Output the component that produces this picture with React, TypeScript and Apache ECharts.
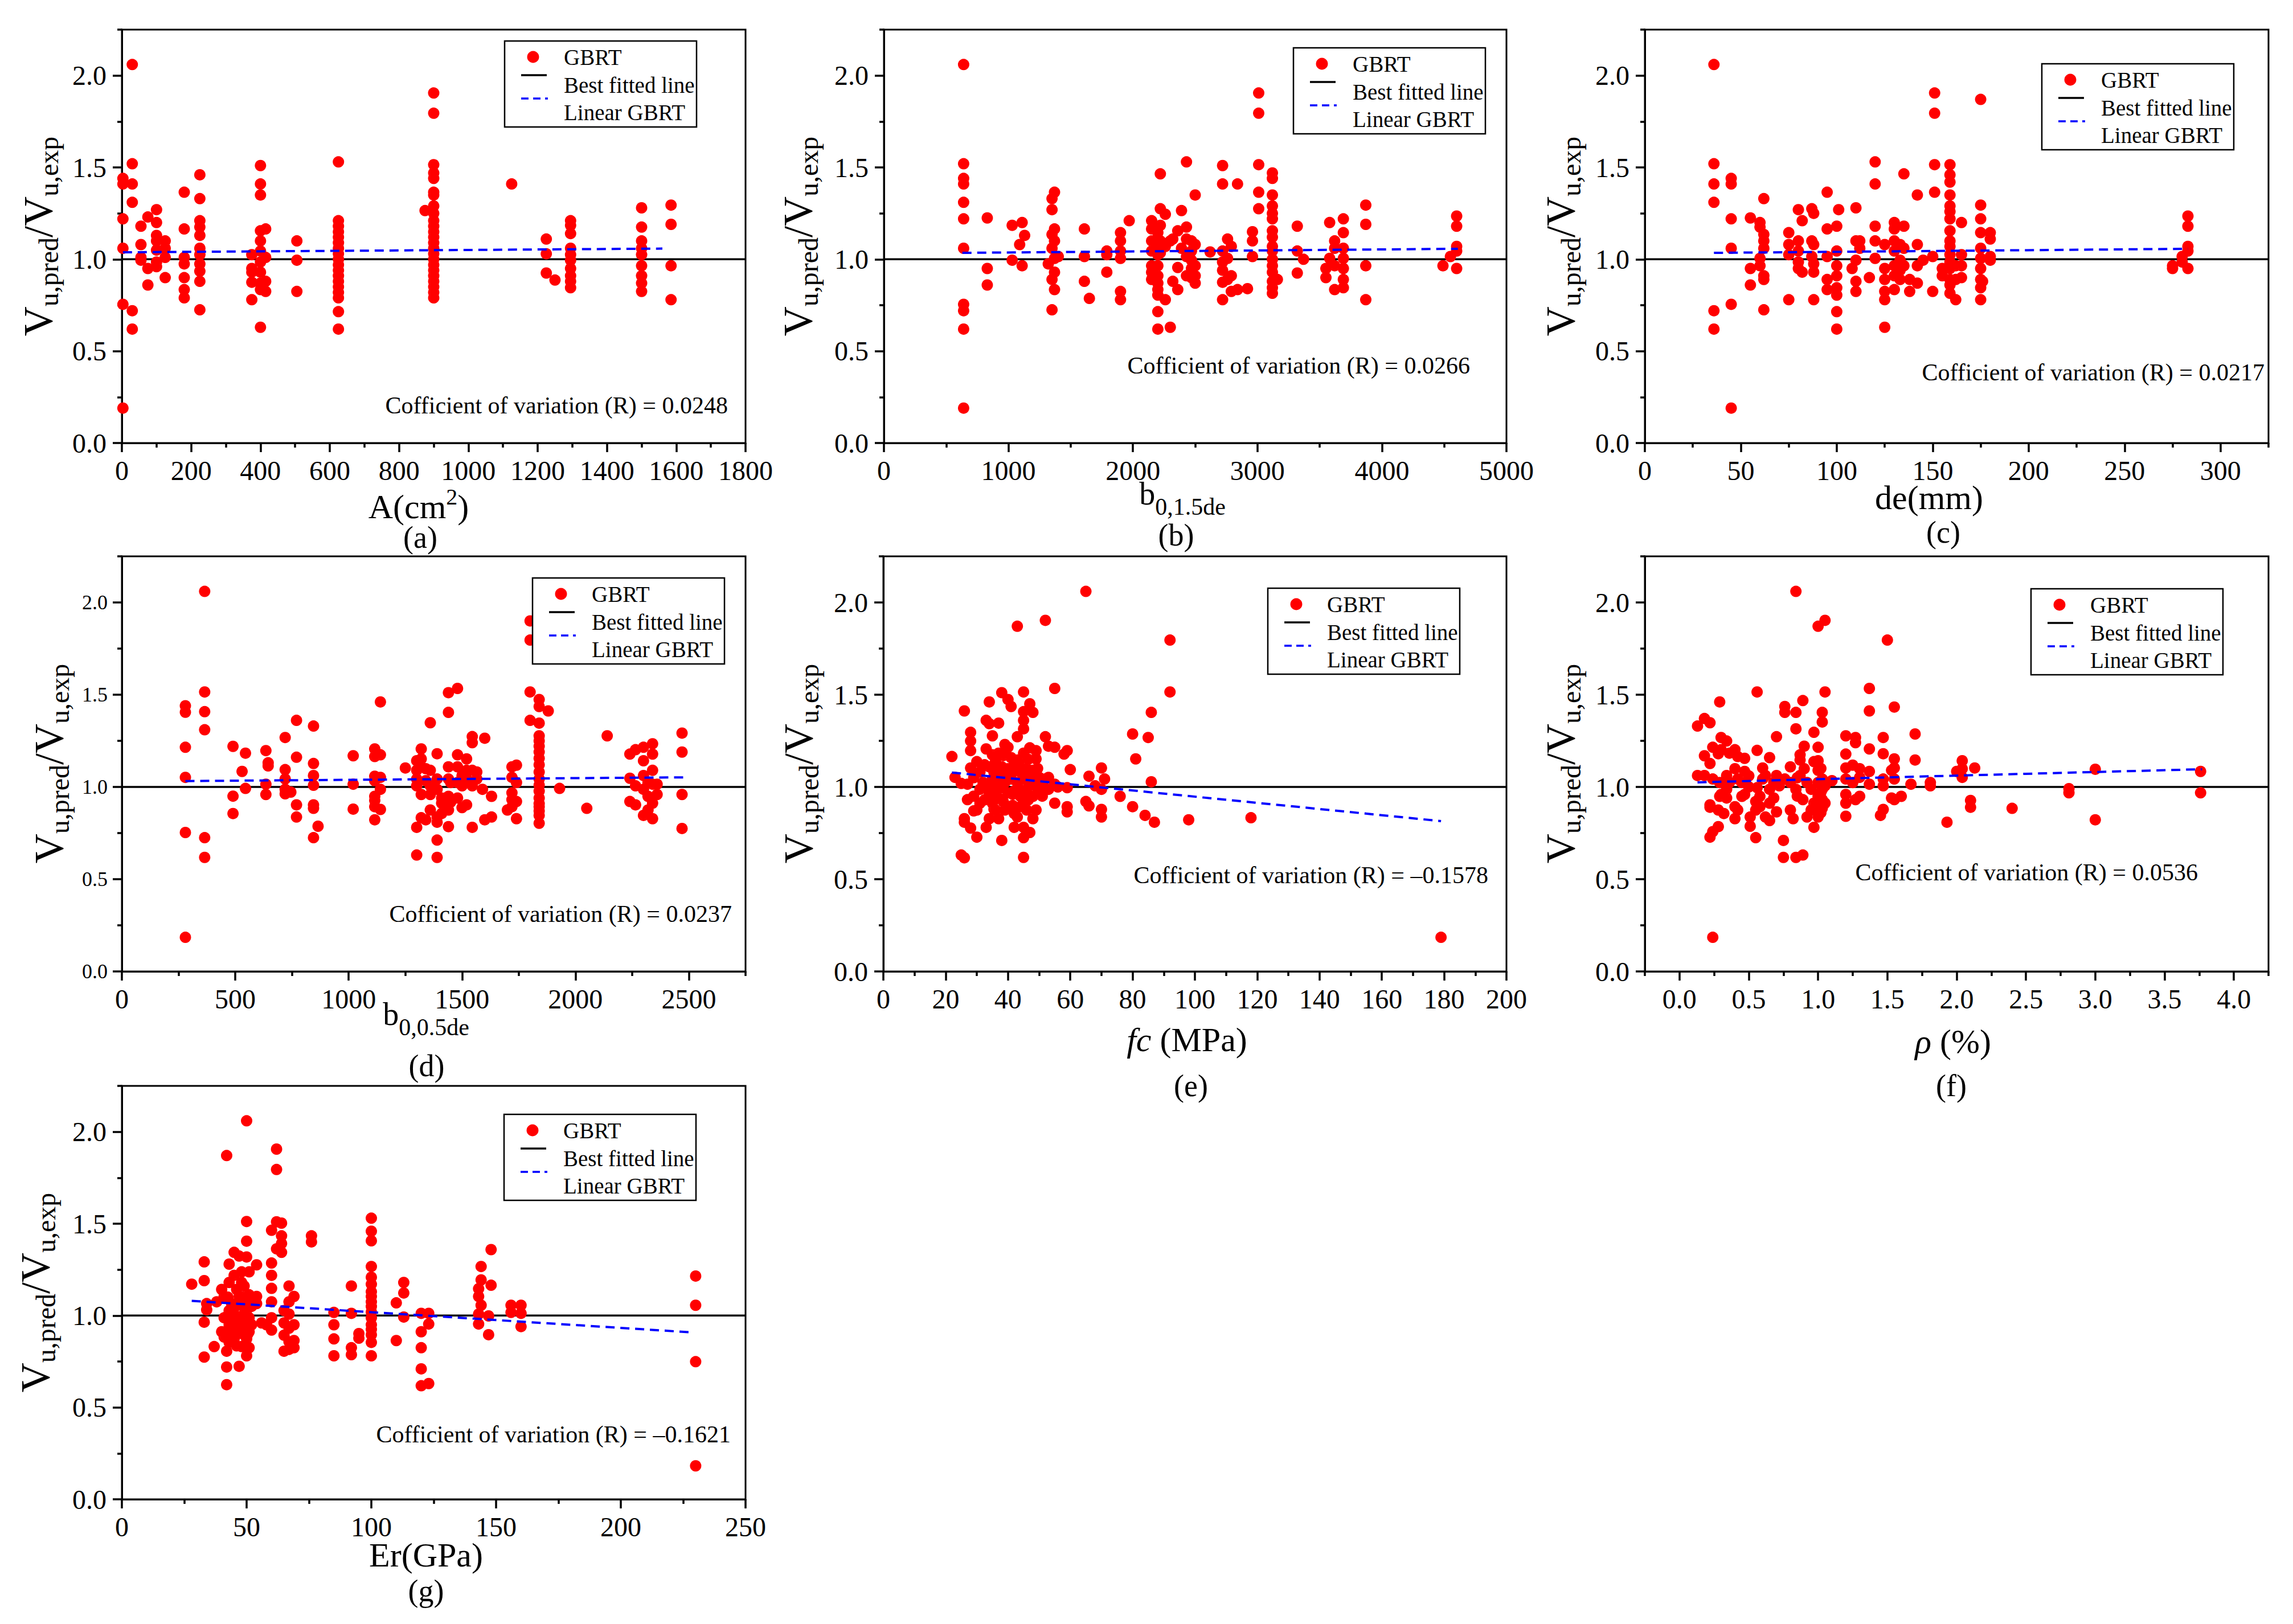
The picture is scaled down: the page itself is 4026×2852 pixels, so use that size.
import { useEffect, useRef } from 'react'
import * as echarts from 'echarts'

type Col = [number, number[]]
type Pt = [number, number]

const FONT = '"Liberation Serif", "Times New Roman", serif'
const W = 4026
const H = 2852
const RED = '#ff0000'
const BLUE = '#0000ff'

// shared y ticks
const yMajor = [0, 0.5, 1, 1.5, 2]
const yMinor = [0.25, 0.75, 1.25, 1.75, 2.25]

// (a) A (cm2): [x, [ratios...]]
const colsA: Col[] = [
  [3, [1.44, 1.41, 1.22, 1.06, 0.755, 0.19]],
  [30, [2.06, 1.52, 1.41, 1.31, 0.72, 0.62]],
  [55, [1.18, 1.08, 1.01, 0.995]],
  [75, [1.23, 0.95, 0.86]],
  [100, [1.27, 1.2, 1.13, 1.1, 1.05, 0.985, 0.96]],
  [125, [1.1, 1.06, 1.01, 0.9]],
  [180, [1.365, 1.165, 1.01, 0.975, 0.9, 0.835, 0.79]],
  [225, [1.46, 1.33, 1.21, 1.175, 1.13, 1.06, 1.025, 0.975, 0.935, 0.88, 0.725]],
  [375, [1.025, 0.95, 0.93, 0.875, 0.78]],
  [400, [1.51, 1.41, 1.35, 1.155, 1.1, 1.045, 0.985, 0.93, 0.87, 0.835, 0.63]],
  [415, [1.165, 1.01, 0.88, 0.825]],
  [505, [1.1, 0.995, 0.825]],
  [625, [1.53, 1.21, 1.18, 1.15, 1.12, 1.09, 1.06, 1.03, 1.0, 0.97, 0.94, 0.91, 0.88, 0.85, 0.82, 0.79, 0.715, 0.62]],
  [875, [1.265]],
  [900, [1.905, 1.795, 1.515, 1.47, 1.44, 1.365, 1.35, 1.29, 1.25, 1.21, 1.18, 1.15, 1.12, 1.09, 1.06, 1.03, 1.0, 0.97, 0.94, 0.91, 0.88, 0.85, 0.82, 0.79]],
  [1125, [1.41]],
  [1225, [1.11, 1.03, 0.925]],
  [1250, [0.887]],
  [1295, [1.21, 1.185, 1.14, 1.06, 1.025, 0.995, 0.95, 0.91, 0.88, 0.845]],
  [1500, [1.28, 1.175, 1.1, 1.06, 1.025, 0.965, 0.91, 0.87, 0.825]],
  [1585, [1.295, 1.19, 0.965, 0.78]],
]
const fitA: Pt[] = [[3, 1.038], [1560, 1.058]]
const xTicksA = [0, 200, 400, 600, 800, 1000, 1200, 1400, 1600, 1800]
const xMinorA = [100, 300, 500, 700, 900, 1100, 1300, 1500, 1700]

// (b) b0,1.5de
const colsB: Col[] = [
  [640, [2.06, 1.52, 1.44, 1.41, 1.31, 1.22, 1.06, 0.755, 0.72, 0.62, 0.19]],
  [830, [1.225, 0.95, 0.86]],
  [1030, [1.185, 0.995]],
  [1090, [1.08]],
  [1110, [1.2, 0.965]],
  [1130, [1.13]],
  [1320, [0.975]],
  [1350, [1.33, 1.27, 1.135, 1.06, 0.89, 0.725]],
  [1370, [1.365, 1.165, 1.1, 1.005, 0.93, 0.835]],
  [1400, [1.015]],
  [1610, [1.165, 1.015, 0.88]],
  [1650, [0.787]],
  [1790, [1.045, 1.025, 0.93]],
  [1900, [1.145, 1.1, 1.045, 1.005, 0.825, 0.78]],
  [1970, [1.21]],
  [2150, [1.21, 1.165, 1.1, 1.045, 0.965, 0.93, 0.89]],
  [2200, [1.145, 1.08, 1.025, 0.965, 0.91, 0.87, 0.835, 0.805, 0.715, 0.62]],
  [2220, [1.465, 1.275, 1.185, 1.1, 1.035]],
  [2260, [1.245, 1.07, 0.78]],
  [2300, [1.1, 0.63]],
  [2320, [1.11, 0.88]],
  [2360, [1.155, 0.955, 0.835]],
  [2390, [1.265, 1.06]],
  [2430, [1.53, 1.175, 1.11, 1.015, 0.91]],
  [2470, [1.1, 1.045, 0.995, 0.95, 0.9]],
  [2500, [1.35, 1.08, 0.965, 0.91, 0.87]],
  [2620, [1.04]],
  [2720, [1.51, 1.41, 1.045, 0.985, 0.94, 0.875, 0.78]],
  [2760, [1.11, 1.005, 0.89]],
  [2790, [1.07, 0.91, 0.825]],
  [2840, [1.41, 0.835]],
  [2920, [0.84]],
  [2960, [1.15, 1.1, 1.015]],
  [3010, [1.905, 1.795, 1.515, 1.365, 1.275]],
  [3120, [1.47, 1.44, 1.35, 1.29, 1.25, 1.22, 1.155, 1.12, 1.07, 1.045, 1.0, 0.965, 0.93, 0.88, 0.845, 0.815]],
  [3160, [0.89]],
  [3320, [1.18, 1.045, 0.925]],
  [3370, [1.0]],
  [3550, [0.95, 0.9]],
  [3580, [1.2, 1.005]],
  [3620, [1.1, 1.06, 0.965, 0.835]],
  [3690, [1.22, 1.145, 1.06, 1.005, 0.95, 0.89, 0.845]],
  [3870, [1.295, 1.19, 0.965, 0.78]],
  [4490, [0.965]],
  [4550, [1.015]],
  [4600, [1.235, 1.18, 1.07, 1.045, 0.95]],
]
const fitB: Pt[] = [[630, 1.035], [4610, 1.057]]
const xTicksB = [0, 1000, 2000, 3000, 4000, 5000]
const xMinorB = [500, 1500, 2500, 3500, 4500]

// (c) de (mm)
const colsC: Col[] = [
  [36, [2.06, 1.52, 1.41, 1.31, 0.72, 0.62]],
  [45, [1.44, 1.41, 1.22, 1.06, 0.755, 0.19]],
  [55, [1.225, 0.95, 0.86]],
  [60, [1.2, 1.175, 1.005, 0.965]],
  [62, [1.33, 1.135, 1.1, 1.06, 0.91, 0.89, 0.725]],
  [75, [1.145, 1.08, 1.025, 0.78]],
  [80, [1.27, 1.1, 1.045, 0.985, 0.95]],
  [82, [1.21, 0.93]],
  [87, [1.275, 1.1, 1.015]],
  [88, [1.25, 1.08, 0.975, 0.93, 0.78]],
  [95, [1.365, 1.165, 1.015, 0.89, 0.835]],
  [100, [1.18, 1.045, 0.965, 0.91, 0.845, 0.805, 0.715, 0.62]],
  [101, [1.27]],
  [108, [0.95]],
  [110, [1.28, 1.1, 0.995, 0.88, 0.825]],
  [112, [1.1, 1.06]],
  [117, [0.9]],
  [120, [1.53, 1.41, 1.18, 1.1, 1.005]],
  [125, [1.08, 0.95, 0.89, 0.825, 0.78, 0.63]],
  [130, [1.2, 1.165, 1.1, 1.045, 0.965, 0.91, 0.835]],
  [133, [1.08, 0.995, 0.94, 0.89]],
  [135, [1.465, 1.18, 1.06, 0.965]],
  [138, [0.89, 0.825]],
  [142, [1.35, 1.08, 0.965, 0.87]],
  [145, [0.995]],
  [150, [1.015, 0.825]],
  [151, [1.905, 1.795, 1.515, 1.365]],
  [155, [0.95, 0.91]],
  [159, [1.515, 1.46, 1.42, 1.35, 1.29, 1.26, 1.22, 1.155, 1.1, 1.07, 1.025, 0.985, 0.95, 0.89, 0.86, 0.815]],
  [162, [0.965, 0.89, 0.78]],
  [165, [1.2, 1.025, 0.965, 0.9]],
  [175, [1.87, 1.295, 1.22, 1.145, 1.06, 1.005, 0.95, 0.89, 0.845, 0.78]],
  [176, [0.88]],
  [180, [1.145, 1.11, 1.015, 0.995]],
  [275, [0.965, 0.95]],
  [280, [1.015, 0.985]],
  [283, [1.235, 1.18, 1.07, 1.045, 0.95]],
]
const fitC: Pt[] = [[36, 1.035], [283, 1.057]]
const xTicksC = [0, 50, 100, 150, 200, 250, 300]
const xMinorC = [25, 75, 125, 175, 225, 275, 325]

// (d) b0,0.5de
const colsD: Col[] = [
  [280, [1.44, 1.405, 1.215, 1.052, 0.753, 0.185]],
  [365, [2.06, 1.515, 1.408, 1.31, 0.725, 0.618]],
  [490, [1.22, 0.95, 0.856]],
  [530, [1.084]],
  [545, [1.183, 0.992]],
  [635, [1.197, 1.015, 0.959]],
  [645, [1.131, 1.114]],
  [720, [1.268, 1.094, 1.043, 0.987, 0.963]],
  [745, [0.972]],
  [770, [1.361, 1.161, 0.903, 0.837]],
  [845, [1.33, 1.127, 1.062, 1.009, 0.903, 0.884, 0.725]],
  [865, [0.787]],
  [1020, [1.169, 1.015, 0.88]],
  [1115, [1.206, 1.165, 1.058, 1.034, 0.949, 0.927, 0.893, 0.822]],
  [1140, [1.461, 1.174, 1.052, 0.987, 0.878]],
  [1250, [1.103]],
  [1300, [1.142, 1.09, 1.043, 1.006, 0.781, 0.631]],
  [1320, [1.206, 1.152, 1.109, 0.959, 0.833]],
  [1340, [1.099, 1.034, 0.822]],
  [1360, [1.348, 1.09, 1.006, 0.959, 0.875]],
  [1390, [1.18, 1.043, 0.987, 0.837, 0.809, 0.712, 0.618]],
  [1410, [0.94, 0.912, 0.856]],
  [1440, [1.511, 1.404, 1.109, 1.043, 0.949, 0.875, 0.785]],
  [1450, [1.024, 0.918]],
  [1480, [1.534, 1.174, 1.109, 1.024, 0.94]],
  [1500, [1.062, 1.006, 0.888]],
  [1520, [1.152, 1.09, 1.043, 0.903]],
  [1545, [1.273, 1.24, 1.09, 1.006, 0.781]],
  [1565, [1.081, 1.043]],
  [1590, [0.987]],
  [1600, [1.264, 0.822]],
  [1630, [0.949, 0.837]],
  [1700, [0.875]],
  [1720, [1.109, 1.052, 0.968, 0.931, 0.893]],
  [1740, [1.118, 1.024, 0.921, 0.828]],
  [1800, [1.9, 1.796, 1.515, 1.361]],
  [1840, [1.474, 1.436, 1.346, 1.277, 1.25, 1.221, 1.19, 1.155, 1.12, 1.081, 1.043, 1.01, 0.978, 0.94, 0.91, 0.893, 0.87, 0.846, 0.803]],
  [1880, [1.412]],
  [1930, [0.992]],
  [2050, [0.884]],
  [2140, [1.277]],
  [2240, [1.178, 1.047, 0.921]],
  [2265, [1.202, 1.006, 0.903]],
  [2300, [1.215, 1.142, 1.062, 0.987, 0.846]],
  [2320, [1.024, 0.949, 0.875]],
  [2340, [1.234, 1.178, 1.09, 1.015, 0.912, 0.828]],
  [2360, [1.015, 0.959]],
  [2470, [1.292, 1.189, 0.959, 0.775]],
]
const fitD: Pt[] = [[280, 1.032], [2475, 1.052]]
const xTicksD = [0, 500, 1000, 1500, 2000, 2500]
const xMinorD = [250, 750, 1250, 1750, 2250, 2750]

// (e) fc (MPa)
const colsE: Col[] = [
  [22, [1.165]],
  [23, [1.052]],
  [25, [1.019, 0.631]],
  [26, [1.412, 0.828, 0.809, 0.616]],
  [27, [1.015, 0.931]],
  [28, [1.296, 1.249, 1.197, 1.103, 0.777]],
  [29, [1.05, 0.95, 0.87]],
  [30, [1.137, 0.875, 0.728]],
  [31, [1.081, 0.987, 0.912]],
  [32, [1.024]],
  [32.5, [1.12, 0.93]],
  [33, [1.361, 1.206, 1.006, 0.781]],
  [34, [1.461, 1.343, 1.109, 0.959, 0.828]],
  [35, [1.277, 1.174, 1.043, 0.912]],
  [35.5, [1.08, 0.98, 0.88]],
  [36, [1.137, 1.015, 0.949, 0.875]],
  [37, [1.346, 1.183, 1.062, 0.94, 0.828]],
  [38, [1.511, 1.109, 0.996, 0.71]],
  [38.5, [1.17, 1.05, 0.92]],
  [39, [1.23, 1.024, 0.875]],
  [40, [1.474, 1.215, 1.099, 0.968, 0.893]],
  [41, [1.436, 1.159, 1.043]],
  [41.5, [1.08, 0.96, 0.9]],
  [42, [1.118, 0.978, 0.856, 0.781]],
  [43, [1.871, 1.272, 1.146, 1.024, 0.837]],
  [43.5, [1.12, 0.99]],
  [44, [1.081, 0.949, 0.893]],
  [45, [1.515, 1.408, 1.361, 1.315, 1.183, 1.043, 0.912, 0.781, 0.725, 0.618]],
  [46, [1.099, 0.987, 0.875]],
  [46.5, [1.15, 1.06, 0.93]],
  [47, [1.451, 1.212, 1.024, 0.753]],
  [48, [1.404, 1.09, 0.949, 0.828]],
  [49, [1.197, 1.152, 1.043, 0.875]],
  [49.5, [1.1, 0.99]],
  [50, [1.052, 0.968]],
  [51, [1.02, 0.95]],
  [52, [1.903, 1.272, 1.043]],
  [53, [1.221, 1.052, 0.987]],
  [55, [1.534, 1.215, 1.015, 0.912]],
  [56, [1.0]],
  [58, [1.178]],
  [59, [1.197, 0.996, 0.893, 0.865]],
  [60, [1.094]],
  [65, [2.06, 0.921]],
  [66, [1.058, 0.897]],
  [68, [1.006]],
  [70, [1.103, 0.987, 0.878, 0.837]],
  [71, [1.043]],
  [76, [0.949]],
  [80, [1.287, 0.893]],
  [81, [1.152]],
  [84, [0.846]],
  [85, [1.268]],
  [86, [1.404, 1.028]],
  [87, [0.809]],
  [92, [1.796, 1.515]],
  [98, [0.822]],
  [118, [0.833]],
  [179, [0.185]],
]
const fitE: Pt[] = [[22, 1.078], [179, 0.815]]
const xTicksE = [0, 20, 40, 60, 80, 100, 120, 140, 160, 180, 200]
const xMinorE = [10, 30, 50, 70, 90, 110, 130, 150, 170, 190]

// (f) rho (%)
const colsF: Col[] = [
  [0.13, [1.33, 1.062]],
  [0.18, [1.371, 1.169, 1.062]],
  [0.22, [1.348, 1.127, 0.903, 0.89, 0.728]],
  [0.24, [1.215, 1.043, 0.758, 0.185]],
  [0.28, [1.18, 0.875, 0.785]],
  [0.29, [1.461, 1.024, 0.949]],
  [0.3, [1.268, 1.202, 0.959]],
  [0.32, [0.856]],
  [0.34, [1.249, 1.062, 0.987, 0.94]],
  [0.36, [1.183, 1.024]],
  [0.4, [1.202, 1.099, 0.893, 0.828]],
  [0.42, [1.165, 1.043, 0.875]],
  [0.45, [1.024, 0.949]],
  [0.47, [1.155, 1.084, 0.959]],
  [0.5, [1.0, 1.06]],
  [0.51, [0.837, 0.787]],
  [0.55, [0.921, 0.875, 0.725]],
  [0.56, [1.515, 1.198, 0.996]],
  [0.58, [0.949, 0.893]],
  [0.6, [1.103, 1.043]],
  [0.62, [1.062, 0.837]],
  [0.65, [1.159, 0.987, 0.912, 0.818]],
  [0.68, [1.024, 0.94]],
  [0.7, [1.272, 1.062, 0.865]],
  [0.72, [1.006]],
  [0.75, [0.71, 0.618]],
  [0.76, [1.436, 1.404, 1.043]],
  [0.8, [1.109, 1.024, 0.875]],
  [0.82, [0.828]],
  [0.84, [2.06, 1.404, 1.315, 0.987, 0.618]],
  [0.85, [1.05, 0.95]],
  [0.87, [1.174, 1.146, 1.062]],
  [0.89, [1.468, 0.931, 0.631]],
  [0.9, [1.221, 1.099]],
  [0.92, [1.024, 0.837]],
  [0.95, [0.987, 0.875]],
  [0.97, [1.296, 1.137, 0.912, 0.781]],
  [1.0, [1.871, 1.215, 1.142, 1.09, 1.024, 0.949, 0.893, 0.837]],
  [1.02, [1.1, 0.97, 0.92, 0.86]],
  [1.03, [1.404, 1.352, 1.043, 0.987, 0.931, 0.884]],
  [1.05, [1.903, 1.515, 1.006, 0.912]],
  [1.1, [1.034]],
  [1.2, [1.277, 1.178, 1.103, 1.043, 0.959, 0.912, 0.841]],
  [1.25, [1.118, 1.024]],
  [1.27, [1.268, 1.24, 0.931]],
  [1.3, [1.099, 1.052, 0.949]],
  [1.37, [1.534, 1.412, 1.206, 1.084, 1.015]],
  [1.45, [0.846]],
  [1.47, [1.268, 1.18, 1.043, 1.006, 0.878]],
  [1.5, [1.796]],
  [1.53, [1.09, 0.94]],
  [1.55, [1.433, 1.152, 1.103, 1.043, 0.931]],
  [1.6, [0.949]],
  [1.67, [1.015]],
  [1.7, [1.287, 1.146]],
  [1.81, [1.024, 1.006]],
  [1.93, [0.809]],
  [2.0, [1.084]],
  [2.04, [1.142, 1.099, 1.052]],
  [2.1, [0.927, 0.89]],
  [2.13, [1.103]],
  [2.4, [0.884]],
  [2.81, [0.991, 0.968]],
  [3.0, [1.096, 0.822]],
  [3.76, [1.084, 0.968]],
]
const fitF: Pt[] = [[0.13, 1.025], [3.77, 1.096]]
const xTicksF = [0, 0.5, 1, 1.5, 2, 2.5, 3, 3.5, 4]
const xMinorF = [-0.25, 0.25, 0.75, 1.25, 1.75, 2.25, 2.75, 3.25, 3.75, 4.25]

// (g) Er (GPa)
const colsG: Col[] = [
  [28, [1.171]],
  [33, [1.292, 1.19, 0.964, 0.774]],
  [34, [1.065, 1.031]],
  [37, [0.831]],
  [38, [1.075]],
  [40, [1.142, 0.912]],
  [41, [1.104, 0.988, 0.883]],
  [42, [1.871, 0.806, 0.72, 0.624]],
  [42.5, [1.1, 1.0, 0.92]],
  [43, [1.28, 1.18, 1.027, 0.95, 0.854]],
  [44, [1.065, 0.979, 0.912]],
  [45, [1.344, 1.219, 1.008, 0.873]],
  [45.5, [1.05, 0.97, 0.9]],
  [46, [1.142, 0.94, 0.835]],
  [47, [1.324, 1.104, 0.988, 0.724]],
  [48, [1.238, 1.18, 1.056, 0.902, 0.831]],
  [48.5, [1.1, 0.99, 0.93]],
  [49, [1.161, 1.008, 0.95]],
  [50, [2.06, 1.512, 1.405, 1.319, 1.084, 0.873, 0.781]],
  [50.5, [1.04, 0.96, 0.9]],
  [51, [1.238, 1.113, 0.988, 0.912, 0.825]],
  [52, [1.05, 0.95]],
  [54, [1.276, 1.104, 1.065]],
  [56, [0.96]],
  [58, [0.95]],
  [60, [1.464, 1.286, 1.219, 1.148, 1.075, 0.988, 0.921]],
  [62, [1.906, 1.795, 1.51, 1.363]],
  [64, [1.503, 1.434, 1.392, 1.344]],
  [65, [1.027, 0.96, 0.893, 0.806]],
  [67, [1.161, 1.075, 1.008, 0.931, 0.858, 0.816]],
  [69, [1.104, 0.95, 0.864, 0.825]],
  [76, [1.434, 1.401]],
  [85, [1.017, 0.95, 0.873, 0.781]],
  [92, [1.161, 1.012, 0.825, 0.787]],
  [95, [0.902, 0.877]],
  [100, [1.53, 1.459, 1.407, 1.267, 1.209, 1.171, 1.13, 1.104, 1.075, 1.05, 1.02, 0.988, 0.95, 0.925, 0.896, 0.854, 0.781]],
  [110, [1.069, 0.864]],
  [113, [1.18, 1.123, 0.992]],
  [120, [1.012, 0.912, 0.825, 0.71, 0.618]],
  [123, [1.012, 0.954, 0.63]],
  [143, [1.146, 1.104, 1.008, 0.954]],
  [144, [1.267, 1.194, 1.056]],
  [147, [0.998, 0.896]],
  [148, [1.359, 1.165]],
  [156, [1.056, 1.017]],
  [160, [1.056, 1.012, 0.94]],
  [230, [1.215, 1.056, 0.749, 0.182]],
]
const fitG: Pt[] = [[28, 1.08], [229, 0.908]]
const xTicksG = [0, 50, 100, 150, 200, 250]
const xMinorG = [25, 75, 125, 175, 225]

const coefValues = ['0.0248', '0.0266', '0.0217', '0.0237', '–0.1578', '0.0536', '–0.1621']

// layout of the seven panels
const panels = [
  { cols: colsA, fit: fitA, xMin: 0, xMax: 1800, xTicks: xTicksA, xMinor: xMinorA, digits: 0, yFont: 48, yMargin: 27,
    box: [214, 52, 1095, 726], legend: [886, 72], coef: [1278, 712], yTitle: [70, 415],
    xTitle: { text: '{ma|A(cm}{sup|2}{ma|)}', x: 735, y: 886 }, tag: { text: '(a)', x: 738, y: 944 } },
  { cols: colsB, fit: fitB, xMin: 0, xMax: 5000, xTicks: xTicksB, xMinor: xMinorB, digits: 0, yFont: 48, yMargin: 27,
    box: [1552, 52, 1093, 726], legend: [2271, 84], coef: [2581, 642], yTitle: [1404, 415],
    xTitle: { text: '{mb|b}{sb|0,1.5de}', x: 2076, y: 875 }, tag: { text: '(b)', x: 2065, y: 940 } },
  { cols: colsC, fit: fitC, xMin: 0, xMax: 325, xTicks: xTicksC, xMinor: xMinorC, digits: 0, yFont: 48, yMargin: 27,
    box: [2888, 52, 1095, 726], legend: [3585, 112], coef: [3976, 654], yTitle: [2743, 415],
    xTitle: { text: '{m|de(mm)}', x: 3387, y: 874 }, tag: { text: '(c)', x: 3412, y: 935 } },
  { cols: colsD, fit: fitD, xMin: 0, xMax: 2750, xTicks: xTicksD, xMinor: xMinorD, digits: 0, yFont: 36, yMargin: 25,
    box: [214, 977, 1095, 729], legend: [935, 1015], coef: [1285, 1605], yTitle: [89, 1341],
    xTitle: { text: '{mb|b}{sb|0,0.5de}', x: 748, y: 1789 }, tag: { text: '(d)', x: 749, y: 1872 } },
  { cols: colsE, fit: fitE, xMin: 0, xMax: 200, xTicks: xTicksE, xMinor: xMinorE, digits: 0, yFont: 48, yMargin: 27,
    box: [1551, 977, 1094, 729], legend: [2226, 1033], coef: [2613, 1537], yTitle: [1405, 1341],
    xTitle: { text: '{it|fc}{m| (MPa)}', x: 2084, y: 1826 }, tag: { text: '(e)', x: 2091, y: 1907 } },
  { cols: colsF, fit: fitF, xMin: -0.25, xMax: 4.25, xTicks: xTicksF, xMinor: xMinorF, digits: 1, yFont: 48, yMargin: 27,
    box: [2888, 977, 1095, 729], legend: [3566, 1034], coef: [3859, 1532], yTitle: [2743, 1341],
    xTitle: { text: '{it|ρ}{m| (%)}', x: 3429, y: 1829 }, tag: { text: '(f)', x: 3426, y: 1907 } },
  { cols: colsG, fit: fitG, xMin: 0, xMax: 250, xTicks: xTicksG, xMinor: xMinorG, digits: 0, yFont: 48, yMargin: 27,
    box: [214, 1907, 1095, 726], legend: [885, 1957], coef: [1283, 2519], yTitle: [65, 2270],
    xTitle: { text: '{m|Er(GPa)}', x: 748, y: 2731 }, tag: { text: '(g)', x: 748, y: 2794 } },
]

const tok = (fontSize: number, extra: Record<string, any> = {}) => ({ fontSize, fontFamily: FONT, fill: '#000', ...extra })

const rich = {
  m: tok(60),
  it: tok(60, { fontStyle: 'italic' }),
  ma: tok(60, { verticalAlign: 'bottom', padding: [7, 0, 0, 0] }),
  sup: tok(40, { verticalAlign: 'top' }),
  mb: tok(56, { verticalAlign: 'bottom', padding: [0, 0, 16, 0] }),
  sb: tok(42, { verticalAlign: 'bottom' }),
  v: tok(72, { verticalAlign: 'bottom', padding: [0, 0, 6, 0] }),
  vs: tok(48, { verticalAlign: 'bottom' }),
}

const axisLineStyle = { color: '#000', width: 3 }
const tickStyle = { color: '#000', width: 3.5 }

function legendGroup(bx: number, by: number) {
  const txt = (text: string, y: number) => ({
    type: 'text', x: 104, y, z: 101,
    style: { text, fontSize: 39, fontFamily: FONT, fill: '#000', verticalAlign: 'middle' },
  })
  return {
    type: 'group', x: bx, y: by, z: 100,
    children: [
      { type: 'rect', z: 100, shape: { x: 0, y: 0, width: 337, height: 151 }, style: { fill: '#fff', stroke: '#000', lineWidth: 2.5 } },
      { type: 'circle', z: 101, shape: { cx: 50, cy: 28, r: 10.5 }, style: { fill: RED } },
      { type: 'line', z: 101, shape: { x1: 29, y1: 60, x2: 74, y2: 60 }, style: { stroke: '#000', lineWidth: 3.5 } },
      { type: 'line', z: 101, shape: { x1: 29, y1: 101, x2: 76, y2: 101 }, style: { stroke: BLUE, lineWidth: 3.5, lineDash: [13, 8] } },
      txt('GBRT', 28),
      txt('Best fitted line', 77),
      txt('Linear GBRT', 125),
    ],
  }
}

function buildOption() {
  const grid: any[] = []
  const xAxis: any[] = []
  const yAxis: any[] = []
  const series: any[] = []
  const elements: any[] = []

  panels.forEach((p, i) => {
    const [left, top, width, height] = p.box
    grid.push({ left, top, width, height, show: true, borderColor: '#000', borderWidth: 3, backgroundColor: 'transparent', containLabel: false })

    xAxis.push({
      gridIndex: i, type: 'value', min: p.xMin, max: p.xMax, position: 'bottom',
      axisLine: { show: true, onZero: false, lineStyle: axisLineStyle },
      axisTick: { show: true, length: 16, customValues: p.xTicks, lineStyle: tickStyle },
      axisLabel: {
        customValues: p.xTicks, margin: 24, fontSize: 48, fontFamily: FONT, color: '#000',
        formatter: (v: number) => v.toFixed(p.digits),
      },
      splitLine: { show: false },
    })
    xAxis.push({
      gridIndex: i, type: 'value', min: p.xMin, max: p.xMax, position: 'bottom',
      axisLine: { show: false, onZero: false },
      axisTick: { show: true, length: 8, customValues: p.xMinor, lineStyle: tickStyle },
      axisLabel: { show: false },
      splitLine: { show: false },
    })
    yAxis.push({
      gridIndex: i, type: 'value', min: 0, max: 2.25, position: 'left',
      axisLine: { show: true, onZero: false, lineStyle: axisLineStyle },
      axisTick: { show: true, length: 16, customValues: yMajor, lineStyle: tickStyle },
      axisLabel: {
        customValues: yMajor, margin: p.yMargin, fontSize: p.yFont, fontFamily: FONT, color: '#000',
        formatter: (v: number) => v.toFixed(1),
      },
      splitLine: { show: false },
    })
    yAxis.push({
      gridIndex: i, type: 'value', min: 0, max: 2.25, position: 'left',
      axisLine: { show: false, onZero: false },
      axisTick: { show: true, length: 8, customValues: yMinor, lineStyle: tickStyle },
      axisLabel: { show: false },
      splitLine: { show: false },
    })

    const xi = 2 * i
    series.push({
      type: 'line', xAxisIndex: xi, yAxisIndex: xi, silent: true, z: 2,
      data: [[p.xMin, 1], [p.xMax, 1]], symbol: 'none',
      lineStyle: { color: '#000', width: 3.5 },
    })
    series.push({
      type: 'scatter', xAxisIndex: xi, yAxisIndex: xi, z: 3,
      data: p.cols.flatMap(([x, ys]) => ys.map((y) => [x, y])),
      symbol: 'circle', symbolSize: 20,
      itemStyle: { color: RED, opacity: 1 },
    })
    series.push({
      type: 'line', xAxisIndex: xi, yAxisIndex: xi, silent: true, z: 4,
      data: p.fit, symbol: 'none',
      lineStyle: { color: BLUE, width: 4, type: [16, 10] },
    })

    elements.push(legendGroup(p.legend[0], p.legend[1]))
    elements.push({
      type: 'text', x: p.coef[0], y: p.coef[1], z: 50,
      style: {
        text: `Cofficient of variation (R) = ${coefValues[i]}`,
        fontSize: 42, fontFamily: FONT, fill: '#000', align: 'right', verticalAlign: 'middle',
      },
    })
    elements.push({
      type: 'text', x: p.yTitle[0], y: p.yTitle[1], rotation: Math.PI / 2, z: 50,
      style: { text: '{v|V}{vs|u,pred}{v|/V}{vs|u,exp}', rich, align: 'center', verticalAlign: 'middle' },
    })
    elements.push({
      type: 'text', x: p.xTitle.x, y: p.xTitle.y, z: 50,
      style: { text: p.xTitle.text, rich, align: 'center', verticalAlign: 'middle' },
    })
    elements.push({
      type: 'text', x: p.tag.x, y: p.tag.y, z: 50,
      style: { text: p.tag.text, fontSize: 54, fontFamily: FONT, fill: '#000', align: 'center', verticalAlign: 'middle' },
    })
  })

  return {
    animation: false,
    backgroundColor: '#fff',
    textStyle: { fontFamily: FONT },
    grid, xAxis, yAxis, series,
    graphic: { elements },
  }
}

export default function App() {
  const chartRef = useRef<HTMLDivElement>(null)

  useEffect(() => {
    if (!chartRef.current) return
    document.body.style.margin = '0'
    const chart = echarts.init(chartRef.current, null, { renderer: 'svg' })
    chart.setOption(buildOption())
    return () => {
      chart.dispose()
    }
  }, [])

  return (
    <div
      ref={chartRef}
      style={{ position: 'absolute', left: 0, top: 0, width: W, height: H, background: '#fff' }}
    />
  )
}
